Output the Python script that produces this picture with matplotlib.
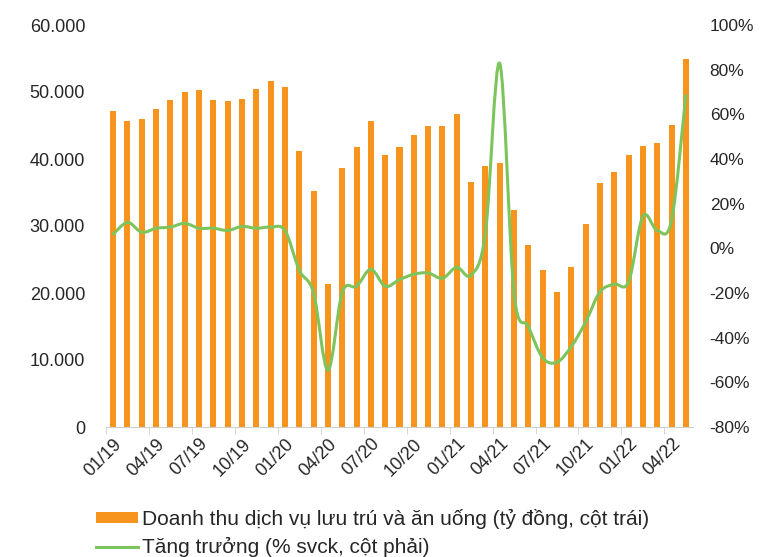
import matplotlib
matplotlib.use('Agg')
import matplotlib.pyplot as plt
from matplotlib.path import Path
from matplotlib.patches import PathPatch, Patch
from matplotlib.lines import Line2D
from matplotlib.ticker import FuncFormatter

plt.rcParams['font.family'] = ['Liberation Sans', 'DejaVu Sans']

# thang 01/19 -> 05/22
months = [f'{m:02d}/{y}' for y in (19, 20, 21, 22) for m in range(1, 13)][:41]

# doanh thu luu tru va an uong (ty dong)
revenue = [47200, 45700, 46000, 47400, 48800, 50000, 50300, 48800, 48600, 49000, 50400, 51600,
           50700, 41200, 35200, 21300, 38700, 41800, 45700, 40600, 41800, 43600, 45000, 45000,
           46700, 36600, 39000, 39400, 32400, 27200, 23400, 20100, 23900, 30300, 36400, 38000,
           40600, 42000, 42400, 45100, 54900]

# tang truong % svck
growth = [6.3, 11.6, 7.2, 9.0, 9.5, 11.2, 9.0, 9.0, 8.0, 9.8, 9.0, 9.5,
          8.0, -9.8, -20.0, -54.6, -19.7, -17.0, -9.4, -17.0, -14.0, -11.6, -11.0, -13.4,
          -8.5, -12.0, 6.7, 82.8, -20.0, -35.0, -49.0, -51.0, -44.0, -33.0, -19.5, -16.0,
          -15.0, 14.3, 8.0, 12.5, 68.5]

tick_labels = ['01/19', '04/19', '07/19', '10/19', '01/20', '04/20', '07/20',
               '10/20', '01/21', '04/21', '07/21', '10/21', '01/22', '04/22']

ORANGE = '#F7941E'
GREEN = '#7DC45C'
TXT = '#262626'


def smooth_path(xs, ys):
    # duong cong kieu Excel (Catmull-Rom -> Bezier)
    n = len(xs)
    verts = [(xs[0], ys[0])]
    codes = [Path.MOVETO]
    for i in range(n - 1):
        x0, y0 = (xs[i - 1], ys[i - 1]) if i > 0 else (xs[i], ys[i])
        x1, y1 = xs[i], ys[i]
        x2, y2 = xs[i + 1], ys[i + 1]
        x3, y3 = (xs[i + 2], ys[i + 2]) if i + 2 < n else (x2, y2)
        c1 = (x1 + (x2 - x0) / 6, y1 + (y2 - y0) / 6)
        c2 = (x2 - (x3 - x1) / 6, y2 - (y3 - y1) / 6)
        verts += [c1, c2, (x2, y2)]
        codes += [Path.CURVE4] * 3
    return Path(verts, codes)


fig = plt.figure(figsize=(7.6, 5.57), dpi=100)
ax = fig.add_axes([106 / 760, 1 - 427 / 557, (693 - 106) / 760, (427 - 25) / 557])
ax2 = ax.twinx()

x = list(range(len(months)))
ax.bar(x, revenue, width=0.42, color=ORANGE, zorder=2)
ax.set_xlim(-0.5, len(months) - 0.5)
ax.set_ylim(0, 60000)
ax.set_yticks(range(0, 60001, 10000))
ax.yaxis.set_major_formatter(FuncFormatter(lambda v, p: f'{int(v):,}'.replace(',', '.')))

ax2.set_ylim(-80, 100)
ax2.set_yticks(range(-80, 101, 20))
ax2.yaxis.set_major_formatter(FuncFormatter(lambda v, p: f'{int(v)}%'))
ax2.add_patch(PathPatch(smooth_path(x, growth), facecolor='none', edgecolor=GREEN,
                        lw=2.2, capstyle='round', joinstyle='round', zorder=3))

ax.set_xticks([months.index(t) for t in tick_labels])
ax.set_xticklabels(tick_labels, rotation=45, ha='right', rotation_mode='anchor')
ax.set_xticks([i - 0.5 for i in range(0, len(months) + 1, 3)], minor=True)
ax.tick_params(axis='x', which='major', length=0, pad=6, labelsize=13, labelcolor=TXT)
ax.tick_params(axis='x', which='minor', length=5, color='#D0D0D0')
ax.tick_params(axis='y', length=0, labelsize=13, labelcolor=TXT, pad=15)
ax2.tick_params(axis='y', length=0, labelsize=12.5, labelcolor=TXT, pad=12)

for a in (ax, ax2):
    for s in ('top', 'left', 'right', 'bottom'):
        a.spines[s].set_visible(False)
ax.spines['bottom'].set_visible(True)
ax.spines['bottom'].set_color('#D0D0D0')

handles = [Patch(facecolor=ORANGE, edgecolor='none'),
           Line2D([], [], color=GREEN, lw=2.2)]
labels = ['Doanh thu dịch vụ lưu trú và ăn uống (tỷ đồng, cột trái)',
          'Tăng trưởng (% svck, cột phải)']
fig.legend(handles, labels, loc='lower left', bbox_to_anchor=(92 / 760, -0.008),
           frameon=False, fontsize=15, handlelength=2.0, handleheight=0.5,
           handletextpad=0.2, labelspacing=0.4, labelcolor=TXT,
           borderpad=0.2, borderaxespad=0)

fig.savefig('out.png', dpi=100)
